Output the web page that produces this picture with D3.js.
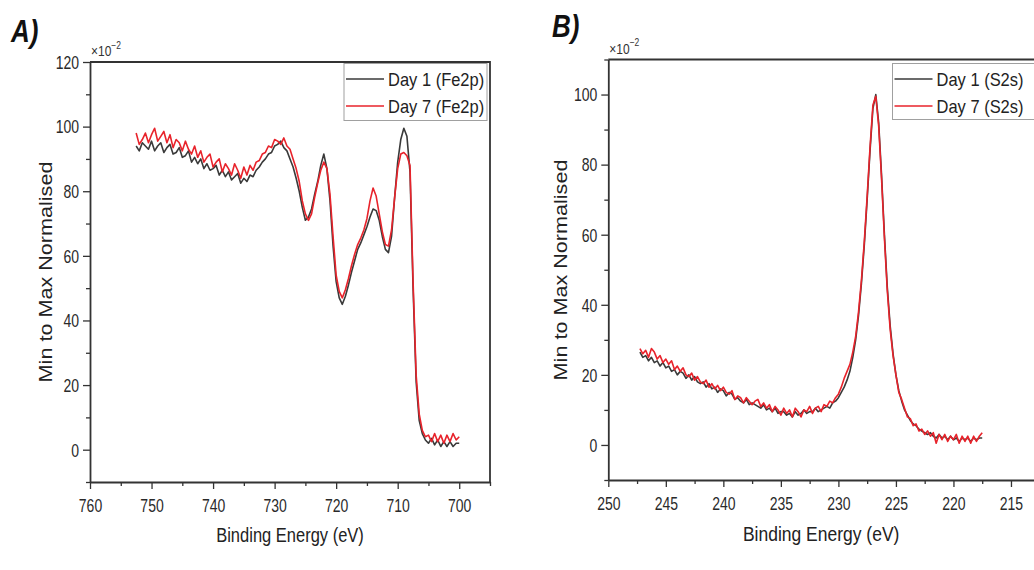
<!DOCTYPE html>
<html>
<head>
<meta charset="utf-8">
<script src="https://cdn.jsdelivr.net/npm/d3@7"></script>
<style>
  body { margin: 0; background: #fff; }
  svg { display: block; font-family: "Liberation Sans", Arial, sans-serif; }
  .axis path, .axis line { stroke: #333; }
  .axis text { fill: #2a2a2a; font-size: 14px; }
</style>
</head>
<body>
<div id="chartDiv"></div>
<script>
//1. Data arrays
// Fe2p spectra, binding energy grid 752.5 -> 700 eV, 0.5 eV steps
const feEnergy = d3.range(752.5, 699.75, -0.5);
const feDay1 = [
  94, 92.5, 95, 94, 93, 95.5, 92.5, 94, 95, 92,
  93.5, 94.5, 91.5, 92, 93.5, 90.5, 91, 92.5, 89, 90.5,
  88.5, 90, 87, 88.5, 86.5, 87, 88, 85, 86.5, 84.5,
  86, 83.5, 84.5, 85.5, 82.5, 84, 83, 85, 84.5, 86.5,
  87.5, 89, 90, 91.5, 92, 94, 94.5, 95.5, 93.5, 92.5,
  90, 87.5, 84, 80, 75, 71, 72, 74.5, 79, 83,
  88, 91.5, 87, 77, 63, 52, 47, 45, 47.5, 51,
  55, 58.5, 62, 64, 66.5, 69, 72, 74.5, 74, 71,
  66, 62, 61, 66, 78, 89, 96, 99.5, 97, 86,
  50, 21, 9, 5, 3, 2, 3.5, 1.5, 3, 1,
  2.5, 1, 2.5, 1, 2, 2
];
const feDay7 = [
  98, 94.5, 96, 98, 95, 97.5, 99.5, 95.5, 97, 98.5,
  95, 97.5, 93.5, 96, 95, 92.5, 95.5, 93, 91.5, 94,
  90.5, 92.5, 89, 90.5, 91.5, 87.5, 89, 90, 86, 88.5,
  87, 85, 88.5, 86.5, 84, 87.5, 85, 88, 86.5, 89,
  89.5, 91.5, 92, 94, 93.5, 96, 95.5, 94.5, 96.5, 94,
  93, 90, 87, 83, 77, 73, 71, 73, 78, 82.5,
  86.5, 89, 87, 79, 66, 54, 49, 47, 49.5, 53,
  57, 60.5, 63.5, 65.5, 68, 71.5, 77, 81, 78.5, 73,
  67.5, 63.5, 63, 68, 78, 87, 91.5, 92, 91, 88,
  52, 23, 11, 6, 4, 4.5, 2.5, 5, 2.5, 4.5,
  2, 4.5, 2.5, 5, 3, 4
];

// S2s spectra, binding energy grid 247.25 -> 217.5 eV, 0.25 eV steps
const sEnergy = d3.range(247.25, 217.25, -0.25);
const sDay1 = [
  26.5, 25, 25.5, 24, 25, 23.5, 24, 22.5, 23.5, 22,
  22.5, 21, 21.5, 20, 21, 20.5, 19, 20, 18.5, 19.5,
  18, 17.5, 18, 16.5, 17.5, 16, 16.5, 15, 16, 15.5,
  14, 15, 14.5, 13, 13.5, 12.5, 12, 13, 11.5, 12,
  11.5, 11, 10.5, 11.5, 10, 10.5, 9.5, 10.5, 9, 9.5,
  9.5, 8.5, 9, 8, 9.5, 8.5, 9, 10, 9, 9.5,
  9.5, 10.5, 9.5, 10, 10.5, 11, 10.5, 12, 12.5, 13.5,
  15, 16.5, 18.5, 21, 25, 30, 37, 46, 57, 70,
  84, 96, 100, 92, 77, 60, 45, 34, 26, 20,
  15.5, 12.5, 10, 8.5, 7, 6, 5.5, 4.5, 4, 3.5,
  3, 3.5, 2.5, 2, 3, 2, 2.5, 1.5, 2.5, 1.5,
  2, 1, 2, 1.5, 2, 1, 2, 1.5, 2, 2
];
const sDay7 = [
  27.5, 26, 27, 25, 27.5, 26.5, 24.5, 25.5, 23.5, 24.5,
  23, 24, 21.5, 22.5, 21, 22, 20, 19.5, 20.5, 18.5,
  19.5, 18, 17.5, 18.5, 16.5, 17.5, 16, 17, 15.5, 16.5,
  15, 14.5, 15.5, 13, 14, 13.5, 12, 13.5, 12.5, 11.5,
  12.5, 13, 11, 12, 10.5, 11.5, 9.5, 11, 10, 8.5,
  10.5, 9, 10, 8, 10.5, 9.5, 8, 10, 9.5, 11,
  9, 10.5, 11, 9.5, 11.5, 11, 12.5, 12, 13.5, 14.5,
  16.5, 19, 21, 23, 26.5, 31, 38, 47, 58, 71,
  85, 97, 99.5, 91, 76, 59, 44, 33, 25.5, 20,
  15, 13, 10.5, 8, 7.5, 5.5, 6, 4, 4.5, 3,
  4, 2.5, 3.5, 0.5, 3, 1.5, 3, 1, 2.5, 1.5,
  3, 0.5, 2.5, 1, 2.5, 0.5, 2.5, 1, 2.5, 3.5
];

//2. tick values
const aXTicks = [760, 750, 740, 730, 720, 710, 700];
const aXMinor = [755, 745, 735, 725, 715, 705, 695];
const aYTicks = [0, 20, 40, 60, 80, 100, 120];
const bXTicks = [250, 245, 240, 235, 230, 225, 220, 215];
const bXMinor = [247.5, 242.5, 237.5, 232.5, 227.5, 222.5, 217.5, 212.5];
const bYTicks = [0, 20, 40, 60, 80, 100];
const yMinor = [-10, 10, 30, 50, 70, 90, 110];

const seriesNames = ["Day 1", "Day 7"];
const colors = ["#3a3a3a", "#e8232b"];

//3. panel layout
const panels = [
  { tag: "A)", tagX: 11, tagY: 42, box: { l: 90, r: 490, t: 62, b: 482 },
    xDom: [760, 695], yDom: [-10, 120], xTicks: aXTicks, xMinor: aXMinor, yTicks: aYTicks,
    energy: feEnergy, series: [feDay1, feDay7], peak: "Fe2p",
    leg: { x: 344, y: 63.5, w: 143, h: 57 }, yTitle: { x: 52, y: 272 }, xTitleY: 542, xTitleSize: 16.5 },
  { tag: "B)", tagX: 552, tagY: 37, box: { l: 608.3, r: 1068.5, t: 59.5, b: 480 },
    xDom: [250, 210], yDom: [-10, 110], xTicks: bXTicks, xMinor: bXMinor, yTicks: bYTicks,
    energy: sEnergy, series: [sDay1, sDay7], peak: "S2s",
    leg: { x: 892.5, y: 63.5, w: 160, h: 56 }, yTitle: { x: 567, y: 270 }, xTitleY: 541, xTitleSize: 17.5 }
];

const svgObj = d3.select("#chartDiv").append("svg")
  .attr("width", 1034)
  .attr("height", 570);

svgObj.append("rect").attr("width", 1034).attr("height", 570).attr("fill", "#fff");

function drawPanel(p, idx) {
  const g = svgObj.append("g").attr("class", "panel" + idx);
  const b = p.box;
  const x = d3.scaleLinear().domain(p.xDom).range([b.l, b.r]);
  const y = d3.scaleLinear().domain(p.yDom).range([b.b, b.t]);

  // clip for the traces
  g.append("clipPath").attr("id", "clip" + idx)
    .append("rect").attr("x", b.l).attr("y", b.t).attr("width", b.r - b.l).attr("height", b.b - b.t);

  // traces
  const lineFn = d3.line().x(d => x(d[0])).y(d => y(d[1]));
  p.series.forEach((vals, i) => {
    g.append("path")
      .datum(p.energy.map((e, j) => [e, vals[j]]))
      .attr("clip-path", `url(#clip${idx})`)
      .attr("fill", "none")
      .attr("stroke", colors[i])
      .attr("stroke-width", 1.6)
      .attr("stroke-linejoin", "round")
      .attr("d", lineFn);
  });

  // frame (top + right)
  g.append("path")
    .attr("d", `M${b.l},${b.t}H${b.r}V${b.b}`)
    .attr("fill", "none").attr("stroke", "#333").attr("stroke-width", 1.8);

  // minor ticks
  g.append("g").attr("class", "axis").attr("transform", `translate(0,${b.b})`)
    .call(d3.axisBottom(x).tickValues(p.xMinor).tickSize(4).tickSizeOuter(0).tickFormat(""))
    .call(a => a.select(".domain").remove());
  g.append("g").attr("class", "axis").attr("transform", `translate(${b.l},0)`)
    .call(d3.axisLeft(y).tickValues(yMinor).tickSize(4).tickSizeOuter(0).tickFormat(""))
    .call(a => a.select(".domain").remove());

  // major axes
  const xAxis = g.append("g").attr("class", "axis").attr("transform", `translate(0,${b.b})`)
    .call(d3.axisBottom(x).tickValues(p.xTicks).tickSize(7).tickSizeOuter(0));
  xAxis.selectAll("text")
    .attr("y", 0).attr("dy", 0)
    .attr("transform", "translate(0,30) scale(1,1.25)");

  const yAxis = g.append("g").attr("class", "axis").attr("transform", `translate(${b.l},0)`)
    .call(d3.axisLeft(y).tickValues(p.yTicks).tickSize(7).tickSizeOuter(0));
  yAxis.selectAll("text")
    .attr("x", 0).attr("dy", "0.36em")
    .attr("transform", "translate(-11,0) scale(1,1.25)");
  g.selectAll(".axis .domain").attr("stroke-width", 1.8);
  g.selectAll(".axis line").attr("stroke-width", 1.3);

  // x10^-2 multiplier
  const mult = g.append("text")
    .attr("transform", `translate(${b.l + 1},${b.t - 6}) scale(1,1.2)`)
    .attr("font-size", 12).attr("fill", "#333");
  mult.append("tspan").text("×10");
  mult.append("tspan").attr("font-size", 8.5).attr("dy", -6).text("−2");

  // panel tag
  g.append("text")
    .attr("transform", `translate(${p.tagX},${p.tagY}) scale(1,1.2)`)
    .attr("font-size", 26).attr("font-weight", "bold").attr("font-style", "italic")
    .attr("fill", "#111").text(p.tag);

  // axis titles
  g.append("text")
    .attr("transform", `translate(${(b.l + Math.min(b.r, 1034)) / 2},${p.xTitleY}) scale(1,1.2)`)
    .attr("text-anchor", "middle").attr("font-size", p.xTitleSize).attr("fill", "#222")
    .text("Binding Energy (eV)");

  g.append("text")
    .attr("transform", `translate(${p.yTitle.x},${p.yTitle.y}) rotate(-90) scale(1.2,1)`)
    .attr("text-anchor", "middle").attr("font-size", 18).attr("fill", "#222")
    .text("Min to Max Normalised");

  // legend
  const L = p.leg;
  const legG = g.append("g");
  legG.append("rect")
    .attr("x", L.x).attr("y", L.y).attr("width", L.w).attr("height", L.h)
    .attr("fill", "#fff").attr("stroke", "#a0a0a0").attr("stroke-width", 1);
  seriesNames.forEach((nm, i) => {
    const ly = L.y + 15.5 + i * 27;
    legG.append("line")
      .attr("x1", L.x + 2).attr("x2", L.x + 40).attr("y1", ly).attr("y2", ly)
      .attr("stroke", colors[i]).attr("stroke-width", 1.6);
    legG.append("text")
      .attr("transform", `translate(${L.x + 44},${ly + 6.5}) scale(1,1.12)`)
      .attr("font-size", 16.5).attr("fill", "#222")
      .text(`${nm} (${p.peak})`);
  });
}

panels.forEach(drawPanel);
</script>
</body>
</html>
